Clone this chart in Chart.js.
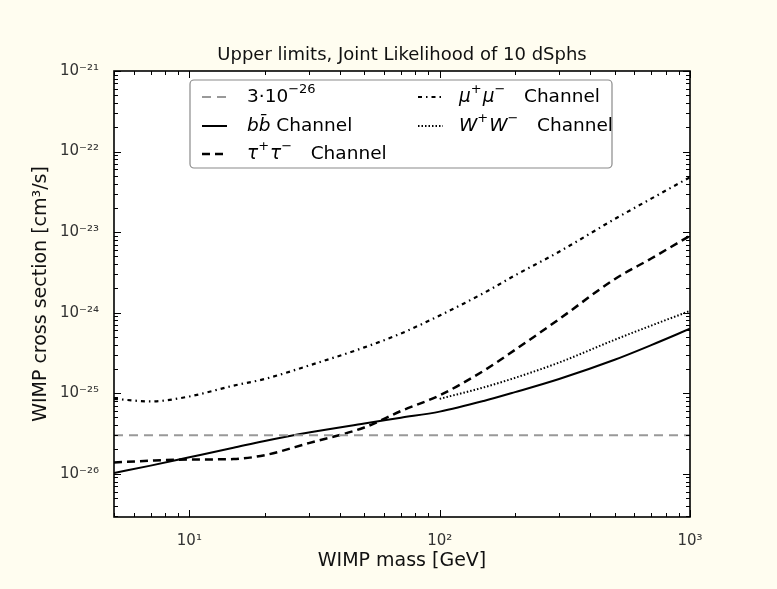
<!DOCTYPE html>
<html>
<head>
<meta charset="utf-8">
<script src="https://cdn.jsdelivr.net/npm/chart.js@4.4.1/dist/chart.umd.min.js"></script>
<style>
  html, body { margin: 0; padding: 0; background: #fffdf0; }
  #wrap { width: 777px; height: 589px; position: relative; }
</style>
</head>
<body>
<div id="wrap"><canvas id="limitsChart" width="777" height="589"></canvas></div>
<script>
// --- Data: upper limits vs WIMP mass ---
const massLow = [5, 7, 10, 15, 20, 30, 50, 70, 100, 150, 200, 300, 500, 700, 1000];
const massWW = [100, 150, 200, 300, 500, 700, 1000];
const massRef = [5, 1000];

const limitBB  = [1.02e-26, 1.26e-26, 1.6e-26, 2.1e-26, 2.55e-26, 3.25e-26, 4.2e-26, 4.95e-26, 5.9e-26, 8.0e-26, 1.03e-25, 1.5e-25, 2.6e-25, 3.95e-25, 6.3e-25];
const limitTau = [1.38e-26, 1.45e-26, 1.5e-26, 1.52e-26, 1.7e-26, 2.4e-26, 3.75e-26, 6.0e-26, 9.4e-26, 1.9e-25, 3.45e-25, 8.3e-25, 2.6e-24, 4.7e-24, 9.0e-24];
const limitMu  = [8.5e-26, 7.9e-26, 9.1e-26, 1.24e-25, 1.5e-25, 2.2e-25, 3.7e-25, 5.5e-25, 9.2e-25, 1.75e-24, 2.9e-24, 5.7e-24, 1.45e-23, 2.6e-23, 4.8e-23];
const limitWW  = [8.5e-26, 1.18e-25, 1.55e-25, 2.4e-25, 4.6e-25, 6.9e-25, 1.05e-24];
const thermalRef = [3e-26, 3e-26];

const xTickValues = [10, 100, 1000];
const xTickLabels = ['10\u00B9', '10\u00B2', '10\u00B3'];
const yTickValues = [1e-26, 1e-25, 1e-24, 1e-23, 1e-22, 1e-21];
const yTickLabels = ['10\u207B\u00B2\u2076', '10\u207B\u00B2\u2075', '10\u207B\u00B2\u2074', '10\u207B\u00B2\u00B3', '10\u207B\u00B2\u00B2', '10\u207B\u00B2\u00B9'];

const chartTitle = 'Upper limits, Joint Likelihood of 10 dSphs';

// legend text pieces: t = text, it = italic, sup = superscript
const legendLabels = [
    [{t: '3\u00B710'}, {t: '\u221226', sup: true}],
    [{t: 'bb\u0304', it: true}, {t: ' Channel'}],
    [{t: '\u03C4', it: true}, {t: '+', sup: true}, {t: '\u03C4', it: true}, {t: '\u2212', sup: true}, {t: '   Channel'}],
    [{t: '\u03BC', it: true}, {t: '+', sup: true}, {t: '\u03BC', it: true}, {t: '\u2212', sup: true}, {t: '   Channel'}],
    [{t: 'W', it: true}, {t: '+', sup: true}, {t: 'W', it: true}, {t: '\u2212', sup: true}, {t: '   Channel'}]
];

function pts(xs, ys) {
    return xs.map((x, i) => ({x: x, y: ys[i]}));
}

// dataset order matches legendLabels
const datasets = [
    {data: pts(massRef, thermalRef), borderColor: '#999999', borderWidth: 2, borderDash: [9, 6]},
    {data: pts(massLow, limitBB), borderColor: '#000', borderWidth: 2},
    {data: pts(massLow, limitTau), borderColor: '#000', borderWidth: 2.5, borderDash: [8, 5]},
    {data: pts(massLow, limitMu), borderColor: '#000', borderWidth: 2.2, borderDash: [4, 4, 1.5, 4]},
    {data: pts(massWW, limitWW), borderColor: '#000', borderWidth: 2, borderDash: [1.5, 2]}
];
datasets.forEach(d => {
    d.pointRadius = 0;
    d.fill = false;
    d.cubicInterpolationMode = 'monotone';
});

const FONT = '"DejaVu Sans", Verdana, sans-serif';

function drawRich(ctx, x, y, parts, size) {
    let cx = x;
    ctx.textBaseline = 'middle';
    ctx.textAlign = 'left';
    parts.forEach(p => {
        let fs = p.sup ? Math.round(size * 0.68) : size;
        ctx.font = (p.it ? 'italic ' : '') + fs + 'px ' + FONT;
        let dy = p.sup ? -size * 0.42 : 0;
        ctx.fillText(p.t, cx, y + dy);
        cx += ctx.measureText(p.t).width + (p.sup ? 1 : 0);
    });
}

// --- Frame, inward ticks, title and legend ---
const decorPlugin = {
    id: 'decor',
    beforeDraw(chart) {
        const ctx = chart.ctx, a = chart.chartArea;
        ctx.save();
        ctx.fillStyle = '#fffdf0';
        ctx.fillRect(0, 0, chart.width, chart.height);
        ctx.fillStyle = '#ffffff';
        ctx.fillRect(a.left, a.top, a.right - a.left, a.bottom - a.top);
        ctx.restore();
    },
    afterDraw(chart) {
        const ctx = chart.ctx, a = chart.chartArea;
        const xs = chart.scales.x, ys = chart.scales.y;
        ctx.save();

        // ticks on all four sides, pointing inward
        ctx.strokeStyle = '#000';
        ctx.lineWidth = 1;
        ctx.beginPath();
        for (let e = 0; e <= 3; e++) {
            for (let m = 1; m <= 9; m++) {
                let v = m * Math.pow(10, e);
                if (v < xs.min || v > xs.max) continue;
                let px = Math.round(xs.getPixelForValue(v)) + 0.5;
                let len = m === 1 ? 7 : 4;
                ctx.moveTo(px, a.bottom); ctx.lineTo(px, a.bottom - len);
                ctx.moveTo(px, a.top); ctx.lineTo(px, a.top + len);
            }
        }
        for (let e = -27; e <= -21; e++) {
            for (let m = 1; m <= 9; m++) {
                let v = m * Math.pow(10, e);
                if (v < ys.min || v > ys.max * 1.0001) continue;
                let py = Math.round(ys.getPixelForValue(v)) + 0.5;
                let len = m === 1 ? 7 : 4;
                ctx.moveTo(a.left, py); ctx.lineTo(a.left + len, py);
                ctx.moveTo(a.right, py); ctx.lineTo(a.right - len, py);
            }
        }
        ctx.stroke();

        ctx.lineWidth = 1.6;
        ctx.strokeRect(a.left, a.top, a.right - a.left, a.bottom - a.top);

        // title
        ctx.fillStyle = '#111';
        ctx.font = '18px ' + FONT;
        ctx.textAlign = 'center';
        ctx.textBaseline = 'middle';
        ctx.fillText(chartTitle, (a.left + a.right) / 2, 55);

        // legend box
        const bx = 190, by = 80, bw = 422, bh = 88;
        ctx.beginPath();
        ctx.roundRect(bx, by, bw, bh, 4);
        ctx.fillStyle = '#ffffff';
        ctx.fill();
        ctx.strokeStyle = '#8a8a8a';
        ctx.lineWidth = 1.2;
        ctx.stroke();

        const slots = [
            {lx: 202, tx: 247, y: 97},
            {lx: 202, tx: 247, y: 126},
            {lx: 202, tx: 247, y: 154},
            {lx: 418, tx: 459, y: 97},
            {lx: 418, tx: 459, y: 126}
        ];
        slots.forEach((s, i) => {
            const d = chart.data.datasets[i];
            ctx.beginPath();
            ctx.strokeStyle = d.borderColor;
            ctx.lineWidth = d.borderWidth;
            ctx.setLineDash(d.borderDash || []);
            ctx.moveTo(s.lx, s.y);
            ctx.lineTo(s.lx + 25, s.y);
            ctx.stroke();
            ctx.setLineDash([]);
            ctx.fillStyle = '#000';
            drawRich(ctx, s.tx, s.y, legendLabels[i], 18.5);
        });

        ctx.restore();
    }
};

new Chart(document.getElementById('limitsChart'), {
    type: 'line',
    data: {datasets: datasets},
    options: {
        responsive: false,
        animation: false,
        layout: {padding: {top: 71, right: 87, left: 0, bottom: 0}},
        plugins: {legend: {display: false}, tooltip: {enabled: false}},
        scales: {
            x: {
                type: 'logarithmic',
                min: 5,
                max: 1000,
                grid: {display: false},
                border: {display: false},
                afterBuildTicks: s => { s.ticks = xTickValues.map(v => ({value: v})); },
                afterFit: s => { s.height = 72; },
                ticks: {
                    autoSkip: false,
                    maxRotation: 0,
                    padding: 7,
                    color: '#333',
                    font: {family: FONT, size: 15},
                    callback: (v, i) => xTickLabels[i]
                },
                title: {
                    display: true,
                    text: 'WIMP mass [GeV]',
                    color: '#111',
                    font: {family: FONT, size: 19},
                    padding: {top: 0, bottom: 17}
                }
            },
            y: {
                type: 'logarithmic',
                min: 2.9e-27,
                max: 1e-21,
                grid: {display: false},
                border: {display: false},
                afterBuildTicks: s => { s.ticks = yTickValues.map(v => ({value: v})); },
                afterFit: s => { s.width = 114; },
                ticks: {
                    autoSkip: false,
                    padding: 7,
                    color: '#333',
                    font: {family: FONT, size: 15},
                    callback: (v, i) => yTickLabels[i]
                },
                title: {
                    display: true,
                    text: 'WIMP cross section [cm\u00B3/s]',
                    color: '#111',
                    font: {family: FONT, size: 19},
                    padding: {top: 30, bottom: 0}
                }
            }
        }
    },
    plugins: [decorPlugin]
});
</script>
</body>
</html>
